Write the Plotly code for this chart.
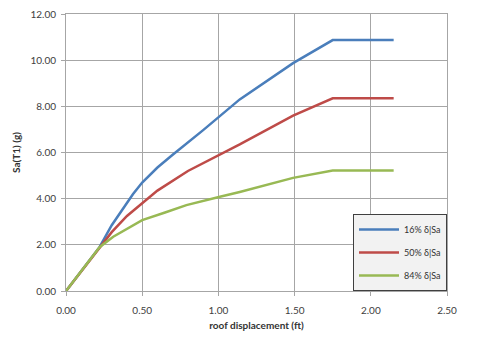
import plotly.graph_objects as go

# Data
disp_16 = [0.0, 0.22, 0.30, 0.37, 0.44, 0.50, 0.60, 0.70, 0.90, 1.14, 1.49, 1.75, 2.15]
sa_16 = [0.0, 1.90, 2.85, 3.55, 4.20, 4.70, 5.35, 5.90, 6.97, 8.30, 9.87, 10.87, 10.87]

disp_50 = [0.0, 0.22, 0.30, 0.40, 0.50, 0.60, 0.80, 1.01, 1.14, 1.49, 1.75, 2.15]
sa_50 = [0.0, 1.90, 2.55, 3.25, 3.80, 4.35, 5.20, 5.90, 6.35, 7.60, 8.35, 8.35]

disp_84 = [0.0, 0.22, 0.31, 0.50, 0.65, 0.79, 1.01, 1.14, 1.49, 1.75, 2.15]
sa_84 = [0.0, 1.90, 2.35, 3.07, 3.40, 3.72, 4.08, 4.29, 4.90, 5.22, 5.22]

names = ["16% δ|Sa", "50% δ|Sa", "84% δ|Sa"]
colors = ["#4a7ebb", "#be4b48", "#98b954"]

fig = go.Figure()
for x, y, name, c in zip([disp_16, disp_50, disp_84], [sa_16, sa_50, sa_84], names, colors):
    fig.add_trace(go.Scatter(x=x, y=y, mode="lines", name=name, legendgroup=name,
                             line=dict(color=c, width=2.5)))

axis_style = dict(
    showgrid=True, gridcolor="#a6a6a6", gridwidth=1,
    showline=True, linecolor="#a6a6a6", linewidth=1, mirror=True,
    zeroline=False, tickformat=".2f", automargin=False,
    ticklabeloverflow="allow",
    tickfont=dict(family="Lato, sans-serif", size=10, color="#404040"),
    ticks="outside", ticklen=4, tickcolor="#a6a6a6",
)

# page body has an 8px margin, so the figure is a bit smaller and shifted
fig.update_layout(
    width=472, height=333,
    margin=dict(l=58, r=33, t=6, b=50),
    paper_bgcolor="white", plot_bgcolor="white",
    xaxis=dict(range=[0, 2.5], dtick=0.5, ticklabelstandoff=6,
               title=dict(text="<b>roof displacement (ft)</b>", standoff=6,
                          font=dict(family="Lato, sans-serif", size=10, color="#333333")),
               **axis_style),
    yaxis=dict(range=[0, 12], dtick=2, ticklabelstandoff=3,
               title=dict(text="<b>Sa(T1) (g)</b>", standoff=7,
                          font=dict(family="Lato, sans-serif", size=10, color="#333333")),
               **axis_style),
    legend=dict(x=1, y=0, xanchor="right", yanchor="bottom",
                bgcolor="#f2f2f2", bordercolor="#404040", borderwidth=1,
                font=dict(family="Lato, sans-serif", size=9, color="#333333"),
                itemwidth=40, tracegroupgap=4),
    showlegend=True,
)

fig.write_html("out.html")
